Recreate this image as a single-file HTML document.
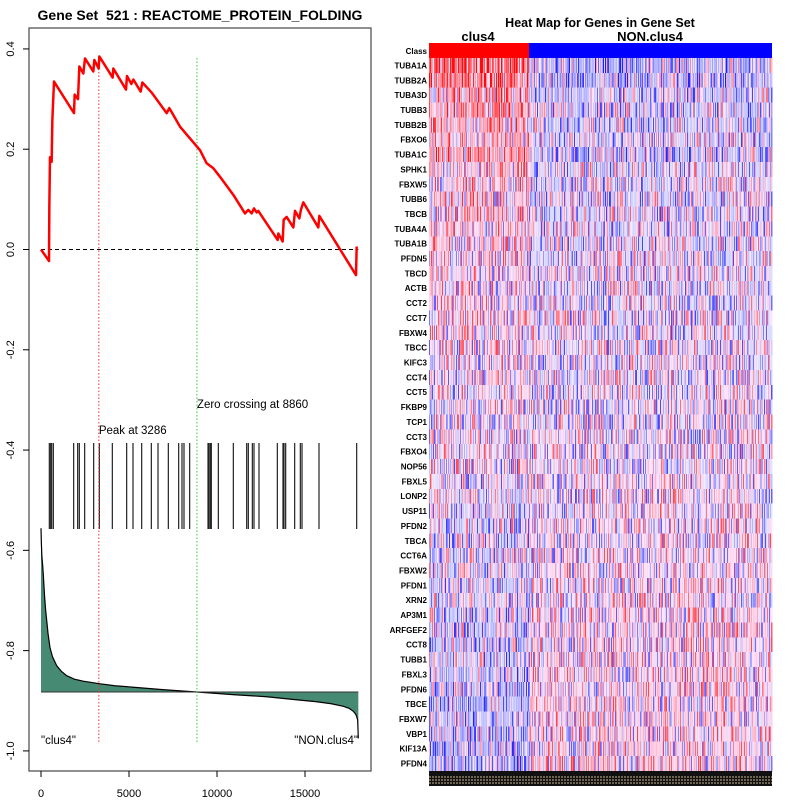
<!DOCTYPE html>
<html><head><meta charset="utf-8"><style>
body{margin:0;background:#fff;width:800px;height:800px;overflow:hidden}
svg{display:block;font-family:"Liberation Sans",Arial,sans-serif}
</style></head><body>
<svg id="s" width="800" height="800" xmlns="http://www.w3.org/2000/svg">
<text x="200" y="20" text-anchor="middle" font-size="14" font-weight="bold" xml:space="preserve">Gene Set  521 : REACTOME_PROTEIN_FOLDING</text>
<rect x="29" y="28" width="342" height="743" fill="none" stroke="#555" stroke-width="1.3"/>
<g id="left"></g>
<text x="600" y="27" text-anchor="middle" font-size="12.5" font-weight="bold">Heat Map for Genes in Gene Set</text>
<text x="478" y="41" text-anchor="middle" font-size="13" font-weight="bold">clus4</text>
<text x="650" y="41" text-anchor="middle" font-size="13" font-weight="bold">NON.clus4</text>
<g id="heat" shape-rendering="crispEdges"></g>
</svg>
<script>
// ---- data ----
const esIdx=[0,455,473,511,606,644,739,1875,1913,2102,2178,2405,2500,2973,3030,3277,3314,4072,4110,4830,4886,5133,5246,5663,5758,6288,7140,7292,7898,9034,9413,9792,10170,10928,11591,11780,11970,12102,12254,12348,13447,13485,13731,13788,13958,14337,14432,14678,14773,14905,15758,15814,17898,17936];
const esVal=[0,-0.023,0.084,0.184,0.175,0.258,0.335,0.272,0.309,0.300,0.365,0.351,0.381,0.355,0.378,0.361,0.385,0.343,0.361,0.319,0.346,0.330,0.339,0.315,0.333,0.313,0.272,0.282,0.245,0.198,0.172,0.162,0.145,0.109,0.072,0.079,0.072,0.082,0.074,0.077,0.019,0.032,0.016,0.059,0.065,0.044,0.077,0.062,0.080,0.094,0.044,0.067,-0.051,0.006];
const hits=[473,549,606,701,1856,2083,2178,2481,2992,3314,4053,4867,5227,5720,6269,6648,7235,7822,8011,8125,8447,9489,9545,9621,9678,10076,10928,11686,11780,12008,12102,12386,13428,13750,13807,13902,14413,14735,14830,15795,17936];
const metIdx=[0,20,50,90,132,200,260,322,400,511,650,890,1150,1458,1900,2405,3314,4200,5250,7000,8860,11000,12822,14500,15663,16500,17178,17500,17746,17900,17992,18030];
const metVal=[-0.556,-0.585,-0.612,-0.628,-0.649,-0.690,-0.718,-0.739,-0.766,-0.794,-0.812,-0.830,-0.841,-0.850,-0.857,-0.861,-0.866,-0.870,-0.873,-0.878,-0.8825,-0.888,-0.892,-0.898,-0.902,-0.906,-0.911,-0.915,-0.921,-0.928,-0.938,-0.975];
const metBase=-0.8825;
const peakIdx=3286, zeroIdx=8860;
const yTicks=[0.4,0.2,0.0,-0.2,-0.4,-0.6,-0.8,-1.0];
const yTickLabels=["0.4","0.2","0.0","-0.2","-0.4","-0.6","-0.8","-1.0"];
const xTicks=[0,5000,10000,15000];
const xTickLabels=["0","5000","10000","15000"];
const genes=["TUBA1A","TUBB2A","TUBA3D","TUBB3","TUBB2B","FBXO6","TUBA1C","SPHK1","FBXW5","TUBB6","TBCB","TUBA4A","TUBA1B","PFDN5","TBCD","ACTB","CCT2","CCT7","FBXW4","TBCC","KIFC3","CCT4","CCT5","FKBP9","TCP1","CCT3","FBXO4","NOP56","FBXL5","LONP2","USP11","PFDN2","TBCA","CCT6A","FBXW2","PFDN1","XRN2","AP3M1","ARFGEF2","CCT8","TUBB1","FBXL3","PFDN6","TBCE","FBXW7","VBP1","KIF13A","PFDN4"];
const rowBias=[0.5,0.45,0.28,0.3,0.25,0.2,0.35,0.12,0.15,0.15,0.12,0.12,0.12,0.1,0.08,0.08,0.06,0.06,0.06,0.04,0.04,0.04,0.02,0.02,0.02,0.0,0.0,0,-0.03,-0.03,-0.05,-0.05,-0.08,-0.08,-0.08,-0.1,-0.1,-0.1,-0.12,-0.12,-0.12,-0.15,-0.15,-0.15,-0.18,-0.18,-0.2,-0.22];
// ---- scales ----
const X=i=>41+i*0.0176, Y=v=>249.5-v*501.4;
const NS="http://www.w3.org/2000/svg";
function mk(p,t,a){const e=document.createElementNS(NS,t);for(const k in a)e.setAttribute(k,a[k]);p.appendChild(e);return e;}
const L=document.getElementById('left');
yTicks.forEach((v,i)=>{const y=Y(v);
 const t=mk(L,'line',{x1:23,x2:29,y1:y,y2:y,stroke:'#000'});
 
 
 const tx=mk(L,'text',{x:14,y:y,'font-size':11,'text-anchor':'middle',transform:`rotate(-90 14 ${y})`});
 tx.textContent=yTickLabels[i];
 
 });
xTicks.forEach((v,i)=>{const x=X(v);
 const t=mk(L,'line',{x1:x,x2:x,y1:771,y2:777,stroke:'#000'});
 
 
 const tx=mk(L,'text',{x:x,y:797,'font-size':11,'text-anchor':'middle'});
 tx.textContent=xTickLabels[i];
 
 });
let d=`M${X(metIdx[0])},${Y(metBase)}`;
metIdx.forEach((m,i)=>d+=`L${X(m)},${Y(metVal[i])}`);
d+=`L${X(metIdx[metIdx.length-1])},${Y(metBase)}Z`;
const fa=mk(L,'path',{d:d,fill:'#468a73',stroke:'none'});


const ml=mk(L,'polyline',{points:metIdx.map((m,i)=>`${X(m)},${Y(metVal[i])}`).join(' '),fill:'none',stroke:'#000','stroke-width':1.2});


const bl=mk(L,'line',{x1:X(0),x2:X(18030),y1:Y(metBase),y2:Y(metBase),stroke:'#333','stroke-width':1});


hits.forEach(h=>{const e=mk(L,'line',{x1:X(h),x2:X(h),y1:443,y2:529,stroke:'#222','stroke-width':1.2});
 
 });
const zl=mk(L,'line',{x1:X(0),x2:X(18030),y1:Y(0),y2:Y(0),stroke:'#000','stroke-dasharray':'4,3'});


const pk=mk(L,'line',{x1:X(peakIdx),x2:X(peakIdx),y1:58,y2:743,stroke:'#e33','stroke-dasharray':'1.5,2'});


const zc=mk(L,'line',{x1:X(zeroIdx),x2:X(zeroIdx),y1:58,y2:743,stroke:'#3c3','stroke-dasharray':'1.5,2'});


const es=mk(L,'polyline',{points:esIdx.map((m,i)=>`${X(m)},${Y(esVal[i])}`).join(' '),fill:'none',stroke:'#f00','stroke-width':2.5,'stroke-linejoin':'round'});


function txt(x,y,s,name,anchor){const t=mk(L,'text',{x:x,y:y,'font-size':11.5,'text-anchor':anchor||'start'});t.textContent=s;
 
 }
txt(X(peakIdx),434,'Peak at '+peakIdx,'peak-label');
txt(X(zeroIdx),408,'Zero crossing at '+zeroIdx,'zero-crossing-label');
txt(41,744,'"clus4"','clus4-label');
txt(358,744,'"NON.clus4"','non-clus4-label','end');
// heatmap
const H=document.getElementById('heat');
const hx0=429,hx1=772,nC=343,cw=(hx1-hx0)/nC,split=100,y0=58,rh=(771-58)/genes.length;
const cr=mk(H,'rect',{x:hx0,y:43,width:(split*cw),height:15,fill:'#f00'});


const cb=mk(H,'rect',{x:hx0+split*cw,y:43,width:hx1-hx0-split*cw,height:15,fill:'#00f'});


const cl=mk(H,'text',{x:427,y:54,'font-size':8,'font-weight':'bold','text-anchor':'end'});cl.textContent='Class';


function hsh(a,b){let h=(a*374761393+b*668265263)|0;h=(h^(h>>>13))*1274126177|0;return ((h^(h>>>16))>>>0)/4294967296;}
function col(v){v=Math.max(-1,Math.min(1,v));
 if(v>=0){const g=Math.round(230-220*v);return `rgb(255,${g},${Math.min(255,Math.round(g+25*(1-v)))})`;}
 const a=-v,r=Math.round(230-225*a);return `rgb(${r},${r},255)`;}
genes.forEach((g,r)=>{const y=y0+r*rh;
 for(let c=0;c<nC;c++){const inA=c<split;const b=inA?rowBias[r]:-rowBias[r]*0.45;
  let n=(hsh(r+1,c+1)-0.5)*2;n=Math.sign(n)*Math.pow(Math.abs(n),2)*0.7;
  const v=b+n;
  const e=mk(H,'rect',{x:hx0+c*cw,y:y,width:cw+0.3,height:rh+0.3,fill:col(v)});
  
  }
 const t=mk(H,'text',{x:427,y:y+rh/2+3,'font-size':8,'font-weight':'bold','text-anchor':'end'});t.textContent=g;
 
 });
const bs=mk(H,'rect',{x:hx0,y:771,width:hx1-hx0,height:15,fill:'#111'});


for(let k=0;k<3;k++){const e=mk(H,'line',{x1:hx0,x2:hx1,y1:777+k*3,y2:777+k*3,stroke:'#cbb894','stroke-width':0.8,'stroke-dasharray':'2,1'});
 
 }
</script>
</body></html>
